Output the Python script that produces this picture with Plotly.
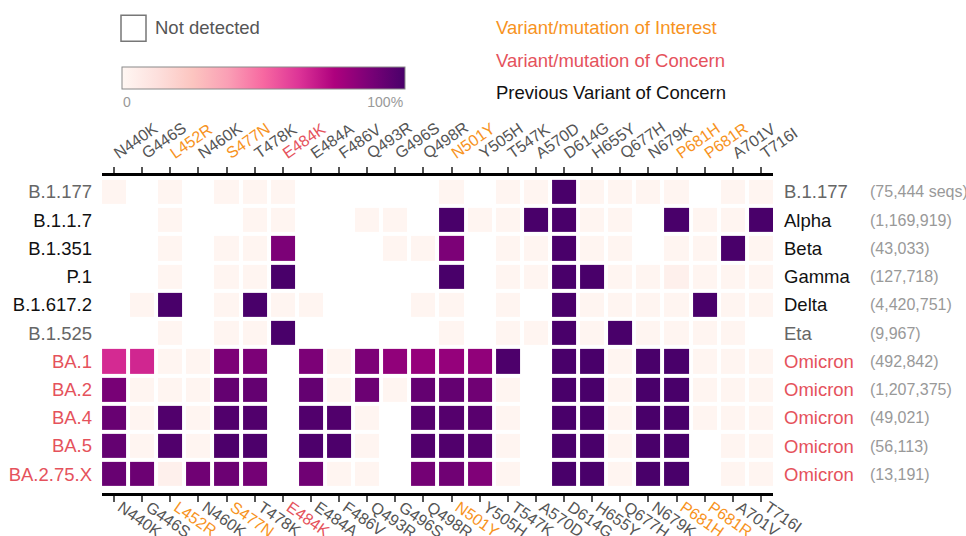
import plotly.graph_objects as go

# ---------------- data ----------------
mutations = ["N440K", "G446S", "L452R", "N460K", "S477N", "T478K", "E484K", "E484A",
             "F486V", "Q493R", "G496S", "Q498R", "N501Y", "Y505H", "T547K", "A570D",
             "D614G", "H655Y", "Q677H", "N679K", "P681H", "P681R", "A701V", "T716I"]
mutation_kind = ["other", "other", "interest", "other", "interest", "other", "concern", "other",
                 "other", "other", "other", "other", "interest", "other", "other", "other",
                 "other", "other", "other", "other", "interest", "interest", "other", "other"]

lineages = ["B.1.177", "B.1.1.7", "B.1.351", "P.1", "B.1.617.2", "B.1.525",
            "BA.1", "BA.2", "BA.4", "BA.5", "BA.2.75.X"]
variant_names = ["B.1.177", "Alpha", "Beta", "Gamma", "Delta", "Eta",
                 "Omicron", "Omicron", "Omicron", "Omicron", "Omicron"]
seq_counts = ["(75,444 seqs)", "(1,169,919)", "(43,033)", "(127,718)", "(4,420,751)", "(9,967)",
              "(492,842)", "(1,207,375)", "(49,021)", "(56,113)", "(13,191)"]
lineage_kind = ["grey", "prev", "prev", "prev", "prev", "grey",
                "concern", "concern", "concern", "concern", "concern"]

N = None
L = 0.01
prevalence = [
    # B.1.177
    [L, N, L, N, L, L, L, N, N, N, N, N, L, N, L, L, 1.0, L, L, L, L, N, L, L],
    # B.1.1.7
    [N, N, L, N, N, L, L, N, N, L, L, N, 1.0, L, L, 1.0, 1.0, L, L, N, 1.0, L, L, 1.0],
    # B.1.351
    [N, N, L, N, L, L, 0.87, N, N, N, L, L, 0.87, N, L, L, 1.0, L, L, N, L, L, 1.0, L],
    # P.1
    [N, N, L, N, L, L, 1.0, N, N, N, N, N, 1.0, N, L, L, 1.0, 1.0, L, L, 0.04, L, L, L],
    # B.1.617.2
    [N, L, 1.0, N, L, 1.0, L, L, N, N, N, L, L, N, L, N, 1.0, L, L, L, L, 1.0, L, L],
    # B.1.525
    [N, N, L, N, L, L, 1.0, N, N, N, N, N, L, N, L, L, 1.0, L, 1.0, L, L, L, L, N],
    # BA.1
    [0.65, 0.66, L, L, 0.87, 0.87, N, 0.87, L, 0.87, 0.82, 0.81, 0.81, 0.82, 0.99, N, 1.0, 1.0, L, 1.0, 1.0, L, L, L],
    # BA.2
    [0.88, L, L, L, 0.93, 0.93, N, 0.93, L, 0.91, L, 0.93, 0.93, 0.9, L, N, 1.0, 1.0, L, 1.0, 1.0, L, L, L],
    # BA.4
    [0.92, L, 0.98, L, 0.98, 0.98, N, 0.98, 0.98, L, N, 0.97, 0.97, 0.96, L, N, 1.0, 1.0, L, 1.0, 1.0, L, L, L],
    # BA.5
    [0.93, L, 0.98, L, 0.99, 0.99, N, 0.99, 0.99, L, N, 0.98, 0.98, 0.97, L, N, 1.0, 1.0, L, 1.0, 1.0, N, L, L],
    # BA.2.75.X
    [0.92, 0.91, 0.04, 0.9, 0.91, 0.89, N, 0.9, L, L, N, 0.89, 0.9, 0.86, L, N, 1.0, 1.0, L, 1.0, 1.0, N, L, L],
]

colorbar_ticks = ["0", "100%"]

# ---------------- styling ----------------
FONT = "Liberation Sans, Arial, sans-serif"
W, H = 966, 536
PL, PR = 102, 773      # plot area left / right in px
PT, PB = 176, 493.5    # plot area top / bottom in px

ORANGE = "#F7931E"
RED = "#E5525C"
GREY_TXT = "#555555"
kind_color = {"other": GREY_TXT, "interest": ORANGE, "concern": RED,
              "grey": "#666666", "prev": "#111111"}


def px_x(px):
    return (px - PL) / (PR - PL)


def px_y(py):
    return (PB - py) / (PB - PT)


xs = list(range(len(mutations)))
ys = list(range(len(lineages)))
x_ticktext = [f'<span style="color:{kind_color[k]}">{m}</span>' for m, k in zip(mutations, mutation_kind)]
y_ticktext = [f'<span style="color:{kind_color[k]}">{l}</span>' for l, k in zip(lineages, lineage_kind)]

fig = go.Figure()
fig.add_trace(go.Heatmap(
    z=prevalence, x=xs, y=ys,
    colorscale="RdPu", zmin=0, zmax=1,
    xgap=4, ygap=4,
    hoverongaps=False,
    colorbar=dict(
        orientation="h",
        x=px_x(263.5), xanchor="center",
        y=px_y(67), yanchor="top",
        len=283, lenmode="pixels",
        thickness=22, thicknessmode="pixels",
        outlinecolor="#8a8a8a", outlinewidth=1,
        xpad=0, ypad=0,
        tickvals=[0.017, 0.93], ticktext=colorbar_ticks,
        ticks="", tickfont=dict(family=FONT, size=14, color="#999999"),
    ),
))
# invisible companion trace so the top (mirrored) category axis is drawn
fig.add_trace(go.Scatter(x=xs, y=[0] * len(xs), xaxis="x2", yaxis="y", mode="markers",
                         marker=dict(opacity=0, size=1), hoverinfo="skip", showlegend=False))

x_range = [-0.43, 23.43]
axis_common = dict(
    tickmode="array", tickvals=xs, ticktext=x_ticktext,
    ticks="outside", ticklen=6, tickwidth=2, tickcolor=GREY_TXT,
    showline=True, linecolor="black", linewidth=3,
    showgrid=False, zeroline=False, range=x_range,
    tickfont=dict(family=FONT, size=16, color=GREY_TXT),
)
fig.update_layout(
    width=W, height=H,
    margin=dict(l=PL, r=W - PR, t=PT, b=H - PB, autoexpand=False),
    paper_bgcolor="white", plot_bgcolor="white",
    font=dict(family=FONT),
    xaxis=dict(side="bottom", tickangle=35, ticklabelstandoff=-10, ticklabelshift=7, **axis_common),
    xaxis2=dict(side="top", overlaying="x", tickangle=-35, type="linear", **axis_common),
    yaxis=dict(
        tickmode="array", tickvals=ys, ticktext=y_ticktext,
        range=[10.665, -0.566], ticks="", showline=False, showgrid=False, zeroline=False,
        tickfont=dict(family=FONT, size=18.5), ticklabelstandoff=9,
    ),
)

annotations = []
# right-hand variant names and sequence counts
for i, (vn, sc, k) in enumerate(zip(variant_names, seq_counts, lineage_kind)):
    annotations.append(dict(x=px_x(782), y=i, xref="paper", yref="y", text=vn, showarrow=False,
                            xanchor="left", yanchor="middle",
                            font=dict(family=FONT, size=18.5, color=kind_color[k])))
    annotations.append(dict(x=px_x(868), y=i, xref="paper", yref="y", text=sc, showarrow=False,
                            xanchor="left", yanchor="middle",
                            font=dict(family=FONT, size=16, color="#999999")))

# key text
legend_items = [("Variant/mutation of Interest", ORANGE, 27),
                ("Variant/mutation of Concern", RED, 60),
                ("Previous Variant of Concern", "#111111", 92)]
for txt, col, yy in legend_items:
    annotations.append(dict(x=px_x(494), y=px_y(yy), xref="paper", yref="paper", text=txt,
                            showarrow=False, xanchor="left", yanchor="middle",
                            font=dict(family=FONT, size=18.5, color=col)))
annotations.append(dict(x=px_x(153), y=px_y(27), xref="paper", yref="paper", text="Not detected",
                        showarrow=False, xanchor="left", yanchor="middle",
                        font=dict(family=FONT, size=18.5, color=GREY_TXT)))
fig.update_layout(annotations=annotations)

fig.add_shape(type="rect", xref="paper", yref="paper",
              x0=px_x(121), x1=px_x(146), y0=px_y(15), y1=px_y(41),
              line=dict(color="#777777", width=1.5), fillcolor="white")

fig.write_html("out.html", config={"displayModeBar": False},
               post_script="document.body.style.margin='0';document.body.style.overflow='hidden';")
